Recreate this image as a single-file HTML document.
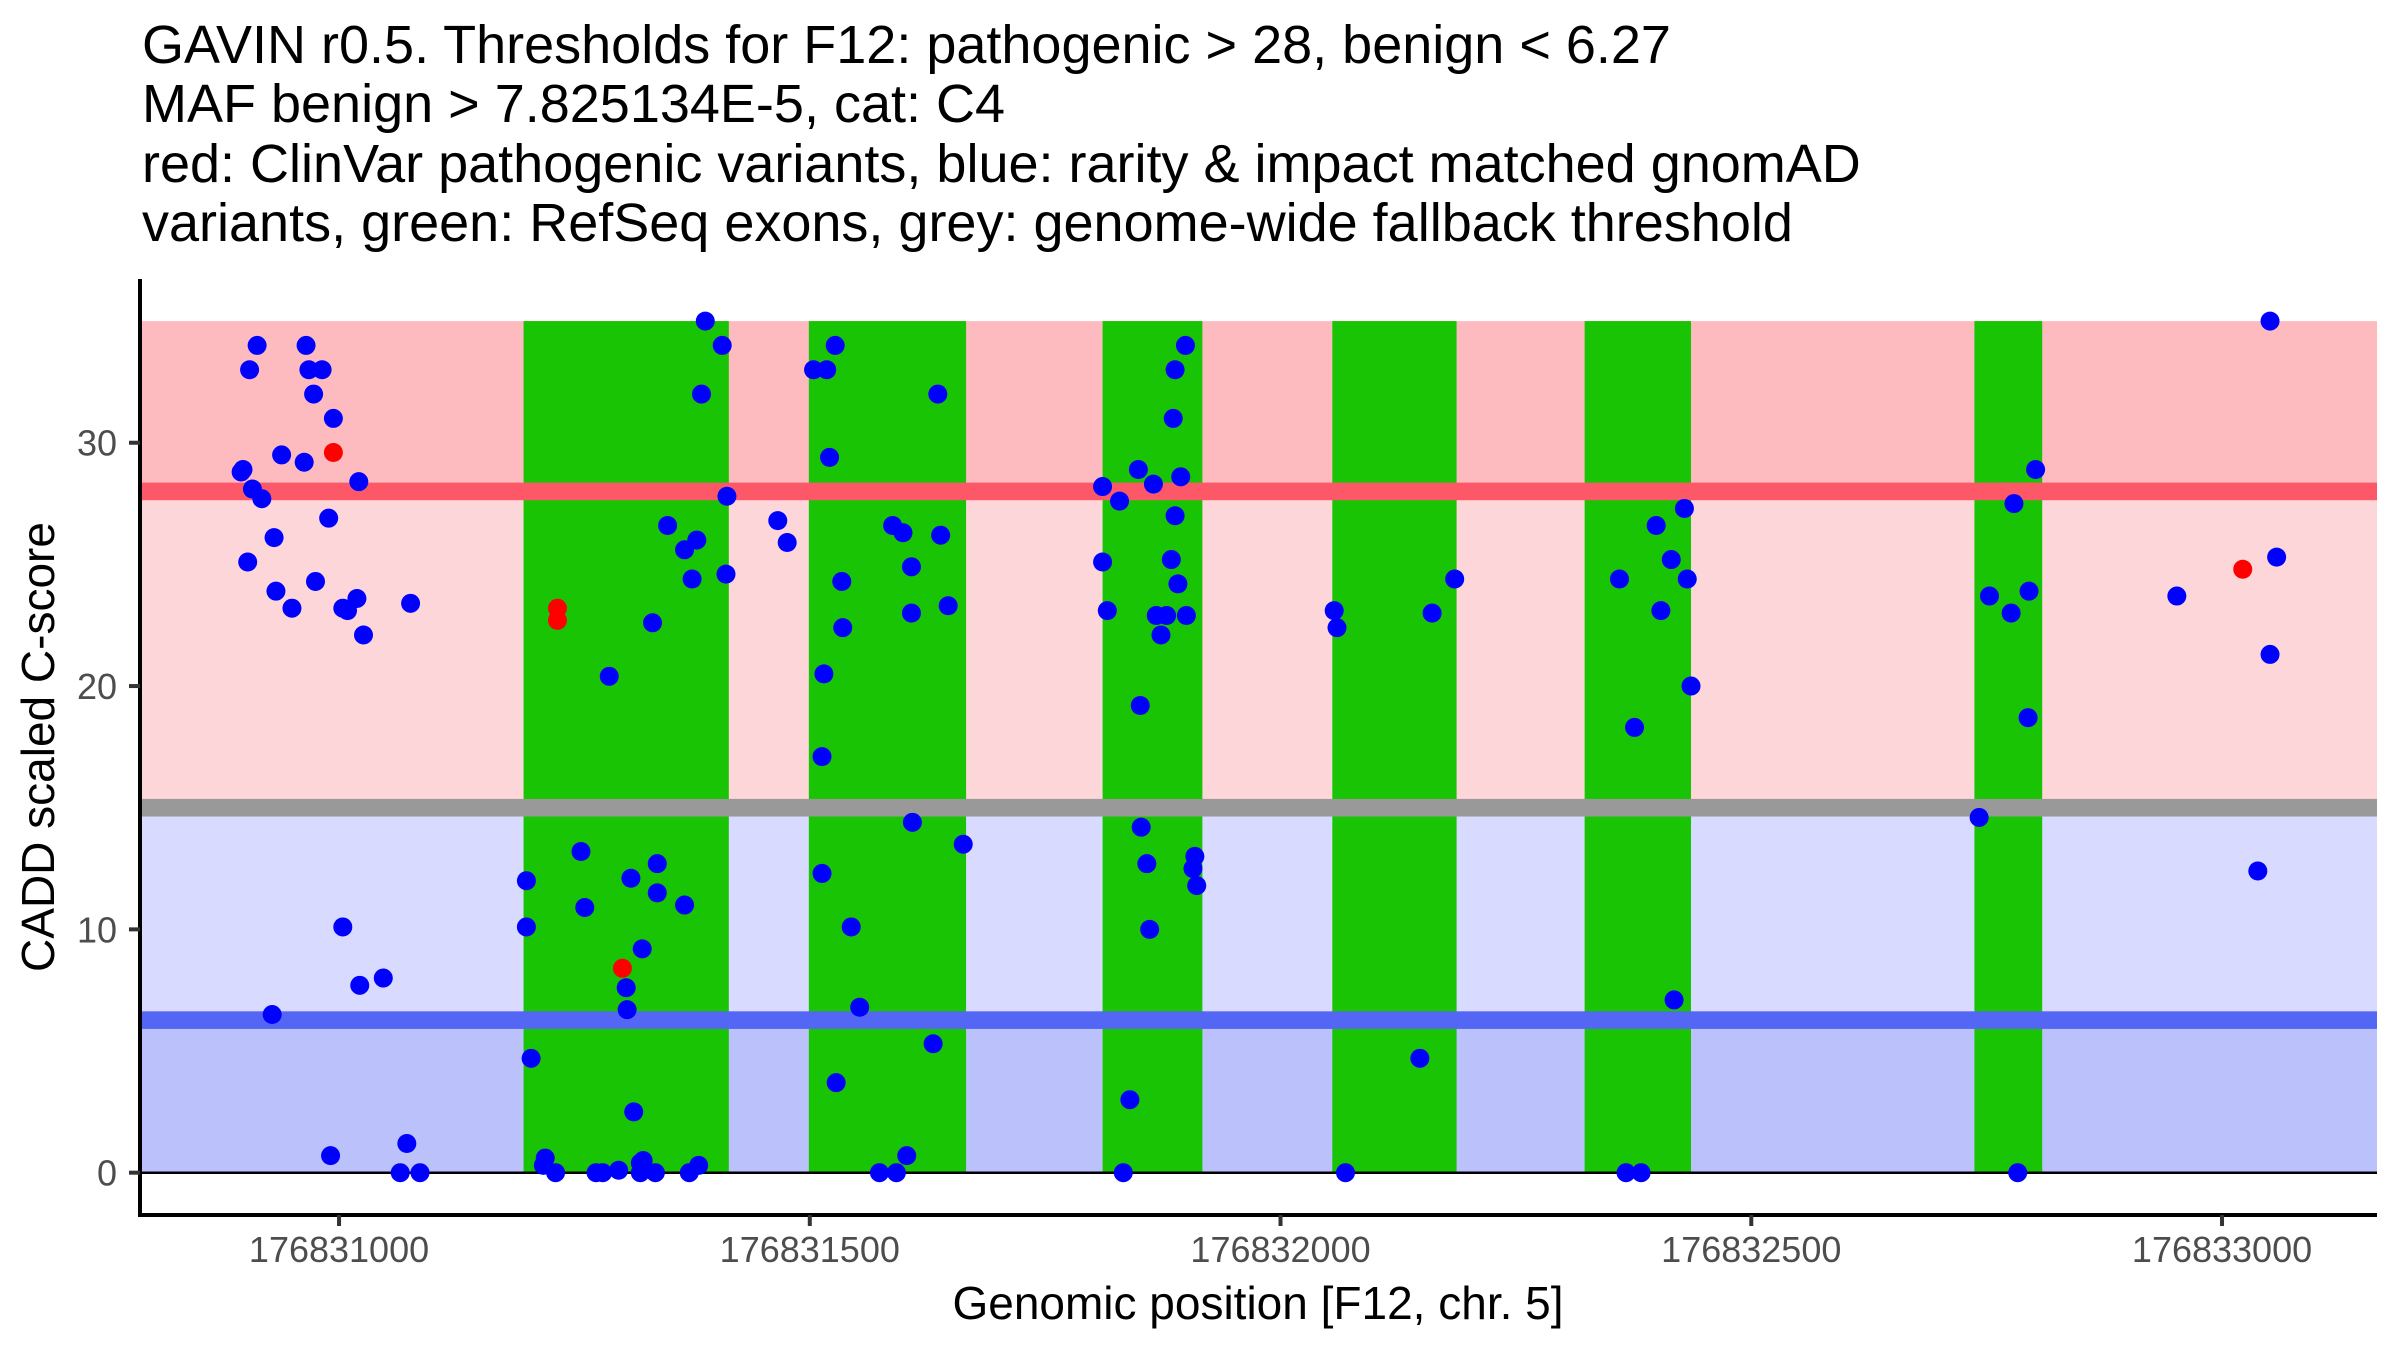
<!DOCTYPE html>
<html><head><meta charset="utf-8"><style>
html,body{margin:0;padding:0;background:#fff;}
svg{display:block;font-family:"Liberation Sans",sans-serif;}
</style></head><body>
<svg id="chart" width="2400" height="1350" viewBox="0 0 2400 1350" xmlns="http://www.w3.org/2000/svg">
<g font-size="54" fill="#000">
<text x="142" y="63">GAVIN r0.5. Thresholds for F12: pathogenic &gt; 28, benign &lt; 6.27</text>
<text x="142" y="122">MAF benign &gt; 7.825134E-5, cat: C4</text>
<text x="142" y="182">red: ClinVar pathogenic variants, blue: rarity &amp; impact matched gnomAD</text>
<text x="142" y="241">variants, green: RefSeq exons, grey: genome-wide fallback threshold</text>
</g>
<g id="bands"></g>
<g id="exons"></g>
<g id="lines"></g>
<g id="points"></g>
<g id="axes"></g>
<text x="1258" y="1319" font-size="46" text-anchor="middle">Genomic position [F12, chr. 5]</text>
<text transform="translate(54,747) rotate(-90)" font-size="46" text-anchor="middle">CADD scaled C-score</text>
</svg>
<script>
const pathogenicThreshold = 28;
const benignThreshold = 6.27;
const fallbackThreshold = 15.0;
const maxScore = 35;
const exonStarts = [176831196,176831499,176831811,176832055,176832323,176832737];
const exonEnds   = [176831414,176831666,176831917,176832187,176832436,176832809];
const xTicks = [176831000,176831500,176832000,176832500,176833000];
const yTicks = [0,10,20,30];
const bluePos = [176830896,176830898,176830905,176830913,176830908,176830918,176830903,176830931,176830933,176830939,176830950,176830965,176830963,176830968,176830973,176830975,176830982,176830989,176830994,176831004,176831009,176831019,176831021,176831026,176831076,176831004,176830929,176831022,176831047,176830991,176831072,176831065,176831086,
176831199,176831199,176831204,176831219,176831217,176831230,176831257,176831261,176831273,176831280,176831287,176831297,176831305,176831306,176831310,176831313,176831320,176831322,176831320,176831323,176831333,176831336,176831338,176831338,176831349,176831367,176831367,176831372,176831375,176831380,176831382,176831385,176831389,176831407,176831411,176831412,
176831504,176831518,176831527,176831466,176831476,176831521,176831534,176831535,176831515,176831513,176831513,176831528,176831544,176831553,176831574,176831592,176831603,176831609,176831608,176831608,176831588,176831599,176831636,176831639,176831647,176831631,176831663,
176831811,176831811,176831816,176831829,176831840,176831833,176831851,176831849,176831865,176831868,176831873,176831879,176831884,176831888,176831886,176831888,176831891,176831894,176831899,176831900,176831909,176831907,176831911,176831852,176831858,176831861,
176832057,176832060,176832069,176832148,176832161,176832185,
176832360,176832376,176832367,176832383,176832399,176832404,176832415,176832429,176832432,176832436,176832418,
176832742,176832753,176832776,176832779,176832783,176832794,176832795,176832802,
176832952,176833058,176833051,176833038,176833051];
const blueScore = [28.8,28.9,33.0,34.0,28.1,27.7,25.1,26.1,23.9,29.5,23.2,34.0,29.2,33.0,32.0,24.3,33.0,26.9,31.0,23.2,23.1,23.6,28.4,22.1,23.4,10.1,6.5,7.7,8.0,0.7,1.2,0,0,
12.0,10.1,4.7,0.6,0.3,0,13.2,10.9,0,0,20.4,0.1,7.6,6.7,12.1,2.5,0,9.2,0.4,0.5,22.6,0,12.7,11.5,26.6,11.0,25.6,0,24.4,26.0,0.3,32.0,35.0,34.0,24.6,27.8,
33.0,33.0,34.0,26.8,25.9,29.4,24.3,22.4,20.5,17.1,12.3,3.7,10.1,6.8,0,0,0.7,14.4,24.9,23.0,26.6,26.3,32.0,26.2,23.3,5.3,13.5,
25.1,28.2,23.1,27.6,3.0,0,19.2,28.9,28.3,22.9,22.1,22.9,25.2,33.0,31.0,27.0,24.2,28.6,34.0,22.9,13.0,12.5,11.8,14.2,12.7,10.0,
23.1,22.4,0,4.7,23.0,24.4,
24.4,18.3,0,0,26.6,23.1,25.2,27.3,24.4,20.0,7.1,
14.6,23.7,23.0,27.5,0,18.7,23.9,28.9,
23.7,25.3,21.3,12.4,35.0];
const redPos = [176830994,176831232,176831232,176831301,176833022];
const redScore = [29.6,23.2,22.7,8.4,24.8];

(function(){
const NS='http://www.w3.org/2000/svg';
const plotLeft=140, plotRight=2377, plotBottom=1215, plotTop=279;
const xMin=176830788.6, xMax=176833164.6;
const yMin=-1.739, yMax=36.73;
const xs=v=>plotLeft+(v-xMin)/(xMax-xMin)*(plotRight-plotLeft);
const ys=v=>plotBottom-(v-yMin)/(yMax-yMin)*(plotBottom-plotTop);
function mk(tag,attrs,parent){const e=document.createElementNS(NS,tag);for(const k in attrs)e.setAttribute(k,attrs[k]);parent.appendChild(e);return e;}
const bandsG=document.getElementById('bands');
const bandDefs=[[pathogenicThreshold,maxScore,'#fdbbc0','pathogenic-band'],[fallbackThreshold,pathogenicThreshold,'#fdd6da','likely-pathogenic-band'],[benignThreshold,fallbackThreshold,'#d8daff','uncertain-band'],[0,benignThreshold,'#bbc1fa','benign-band']];
bandDefs.forEach(b=>{const r=mk('rect',{x:plotLeft,y:ys(b[1]),width:plotRight-plotLeft,height:ys(b[0])-ys(b[1]),fill:b[2]},bandsG);

});
const linesG=document.getElementById('lines');
[[pathogenicThreshold,'#fd5868','pathogenic-threshold-line'],[fallbackThreshold,'#999999','fallback-threshold-line'],[benignThreshold,'#5467f4','benign-threshold-line']].forEach(l=>{const r=mk('rect',{x:plotLeft,y:ys(l[0])-8.8,width:plotRight-plotLeft,height:17.6,fill:l[1]},linesG);

});
const exonsG=document.getElementById('exons');
exonStarts.forEach((s,i)=>{const r=mk('rect',{x:xs(s),y:ys(maxScore),width:xs(exonEnds[i])-xs(s),height:ys(0)-ys(maxScore),fill:'#19c404'},exonsG);

});
const zl=mk('line',{x1:plotLeft,x2:plotRight,y1:ys(0),y2:ys(0),stroke:'#000','stroke-width':2.5},linesG);


const ptsG=document.getElementById('points');
bluePos.forEach((p,i)=>{const c=mk('circle',{cx:xs(p),cy:ys(blueScore[i]),r:9.5,fill:'#0000ff'},ptsG);

});
redPos.forEach((p,i)=>{const c=mk('circle',{cx:xs(p),cy:ys(redScore[i]),r:9.5,fill:'#ff0000'},ptsG);

});
const ax=document.getElementById('axes');
const xl=mk('line',{x1:plotLeft-2,x2:plotRight,y1:plotBottom,y2:plotBottom,stroke:'#000','stroke-width':4},ax);


const yl=mk('line',{x1:plotLeft,x2:plotLeft,y1:plotTop,y2:plotBottom+2,stroke:'#000','stroke-width':4},ax);


xTicks.forEach(t=>{const tk=mk('line',{x1:xs(t),x2:xs(t),y1:plotBottom,y2:plotBottom+11,stroke:'#333','stroke-width':4},ax);


const tx=mk('text',{x:xs(t),y:1262,'font-size':36,'text-anchor':'middle',fill:'#4d4d4d'},ax);tx.textContent=t;

});
yTicks.forEach(t=>{const tk=mk('line',{x1:plotLeft-11,x2:plotLeft,y1:ys(t),y2:ys(t),stroke:'#333','stroke-width':4},ax);


const tx=mk('text',{x:117,y:ys(t)+13,'font-size':36,'text-anchor':'end',fill:'#4d4d4d'},ax);tx.textContent=t;

});
})();
</script>
</body></html>
